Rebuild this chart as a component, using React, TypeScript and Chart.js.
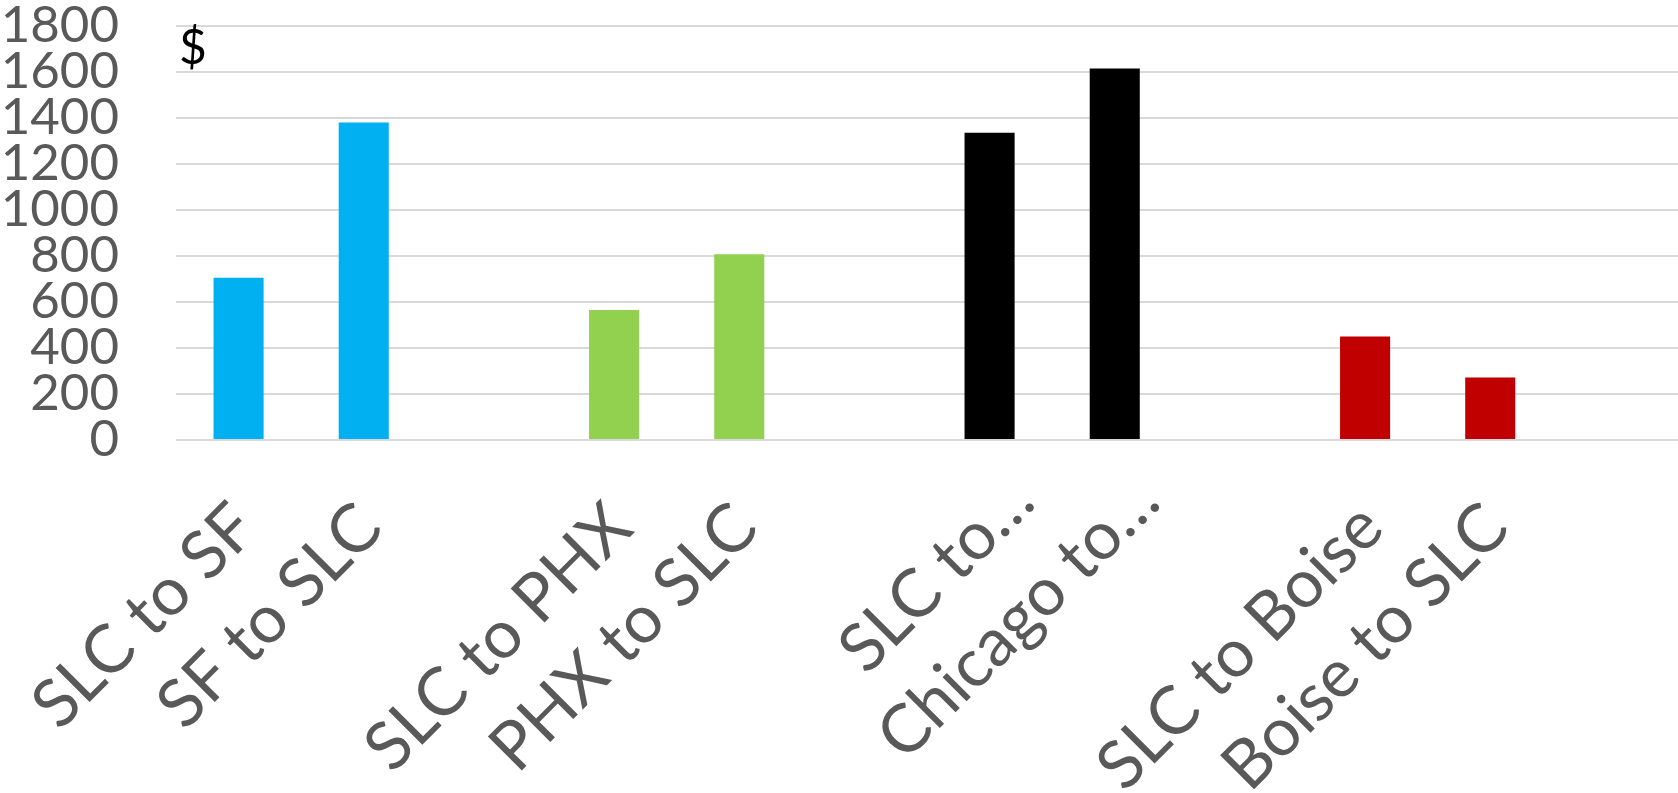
import React, { useEffect, useRef } from 'react';
import { Chart, registerables } from 'chart.js';

Chart.register(...registerables);

// Route categories (empty slots separate the four route groups)
const categories: string[] = [
  'SLC to SF',
  'SF to SLC',
  '',
  'SLC to PHX',
  'PHX to SLC',
  '',
  'SLC to…',
  'Chicago to…',
  '',
  'SLC to Boise',
  'Boise to SLC',
  '',
];

// Fare values in $
const fares: (number | null)[] = [705, 1380, null, 565, 808, null, 1336, 1615, null, 450, 272, null];

const barColors: string[] = [
  '#00B0F0', '#00B0F0', '#FFFFFF',
  '#92D050', '#92D050', '#FFFFFF',
  '#000000', '#000000', '#FFFFFF',
  '#C00000', '#C00000', '#FFFFFF',
];

const yMin = 0;
const yMax = 1800;
const yStep = 200;
const unitLabel = '$';

export default function App() {
  const ref = useRef<HTMLCanvasElement>(null);

  useEffect(() => {
    document.body.style.margin = '0';
    const unitPlugin = {
      id: 'unitLabel',
      afterDraw(chart: any) {
        const { ctx, chartArea } = chart;
        ctx.save();
        ctx.font = '48px Lato';
        ctx.fillStyle = '#000000';
        ctx.textAlign = 'left';
        ctx.textBaseline = 'middle';
        ctx.fillText(unitLabel, chartArea.left + 3, chartArea.top + 23);
        ctx.restore();
      },
    };

    const chart = new Chart(ref.current as HTMLCanvasElement, {
      type: 'bar',
      data: {
        labels: categories,
        datasets: [
          {
            data: fares,
            backgroundColor: barColors,
            barPercentage: 0.4,
            categoryPercentage: 1,
          },
        ],
      },
      options: {
        animation: false,
        responsive: true,
        maintainAspectRatio: false,
        layout: { padding: { top: 26, left: 0, right: 0, bottom: 0 } },
        plugins: {
          legend: { display: false },
          tooltip: { enabled: false },
        },
        scales: {
          x: {
            grid: { display: false, drawTicks: false },
            border: { display: false },
            ticks: {
              autoSkip: false,
              minRotation: 45,
              maxRotation: 45,
              padding: 21,
              labelOffset: 33,
              color: '#595959',
              font: { family: 'Lato', size: 67 },
              callback: (_v: any, i: number) => {
                const l = categories[i];
                return l.endsWith('…') ? l : l + '\u2002\u200A';
              },
            },
            afterFit(s: any) {
              s.height = 353;
              s.paddingLeft = 0;
              s.paddingRight = 0;
            },
          },
          y: {
            min: yMin,
            max: yMax,
            ticks: {
              stepSize: yStep,
              autoSkip: false,
              padding: 57,
              color: '#595959',
              font: { family: 'Lato', size: 51 },
              callback: (v: any) => String(v),
            },
            grid: { color: '#D9D9D9', lineWidth: 2, drawTicks: false },
            border: { display: false },
            afterFit(s: any) {
              s.width = 176;
              s.paddingTop = 0;
              s.paddingBottom = 0;
            },
          },
        },
      },
      plugins: [unitPlugin],
    });
    return () => chart.destroy();
  }, []);

  return (
    <div style={{ position: 'absolute', left: 0, top: 0, width: 1678, height: 793 }}>
      <canvas ref={ref} />
    </div>
  );
}
